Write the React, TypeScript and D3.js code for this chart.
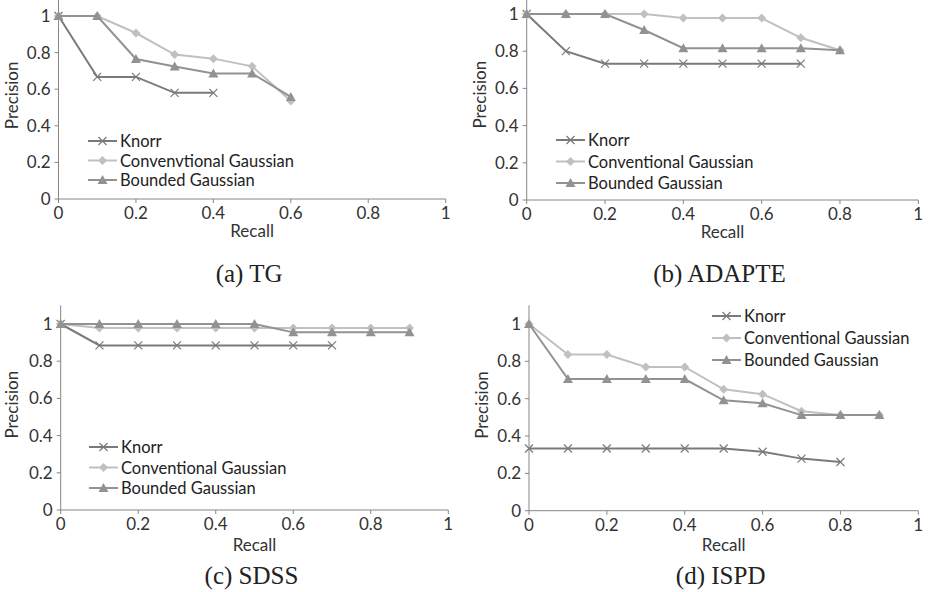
import { useEffect, useRef } from 'react';
import * as d3 from 'd3';

// recall steps shared by all panels (series use the first n of them)
const recall = [0, 0.1, 0.2, 0.3, 0.4, 0.5, 0.6, 0.7, 0.8, 0.9];
const xTicks = [0, 0.2, 0.4, 0.6, 0.8, 1];
const yTicks = [0, 0.2, 0.4, 0.6, 0.8, 1];
const seriesNames = ['Knorr', 'Conventional Gaussian', 'Bounded Gaussian'];

// (a) TG
const tgKnorr = [1, 0.667, 0.667, 0.58, 0.58];
const tgConv = [1, 1, 0.907, 0.789, 0.767, 0.725, 0.536];
const tgBounded = [1, 1, 0.765, 0.724, 0.686, 0.686, 0.558];
// (b) ADAPTE
const adKnorr = [1, 0.8, 0.733, 0.733, 0.733, 0.733, 0.733, 0.733];
const adConv = [1, 1, 1, 1, 0.978, 0.978, 0.978, 0.872, 0.805];
const adBounded = [1, 1, 1, 0.914, 0.816, 0.816, 0.816, 0.816, 0.805];
// (c) SDSS
const sdKnorr = [1, 0.885, 0.885, 0.885, 0.885, 0.885, 0.885, 0.885];
const sdConv = [1, 0.978, 0.978, 0.978, 0.978, 0.978, 0.978, 0.978, 0.978, 0.978];
const sdBounded = [1, 1, 1, 1, 1, 1, 0.955, 0.955, 0.955, 0.955];
// (d) ISPD
const isKnorr = [0.333, 0.333, 0.333, 0.333, 0.333, 0.333, 0.316, 0.279, 0.261];
const isConv = [1, 0.836, 0.836, 0.77, 0.77, 0.65, 0.624, 0.533, 0.512, 0.512];
const isBounded = [1, 0.705, 0.705, 0.705, 0.705, 0.591, 0.575, 0.512, 0.512, 0.512];

const colors = ['#7a7a7a', '#c0c0c0', '#929292'];
const FONT = 'Lato, "Open Sans", sans-serif';

const panels = [
  { caption: '(a) TG', data: [tgKnorr, tgConv, tgBounded], names: ['Knorr', 'Convenvtional Gaussian', 'Bounded Gaussian'],
    x0: 58.5, x1: 445.7, yOne: 16, yZero: 199, recallY: 237, captionY: 282, legend: { x: 88, y: 141, dy: 19.5 } },
  { caption: '(b) ADAPTE', data: [adKnorr, adConv, adBounded], names: seriesNames,
    x0: 526.7, x1: 918.3, yOne: 14, yZero: 200, recallY: 238, captionY: 282, legend: { x: 556, y: 140, dy: 21.5 } },
  { caption: '(c) SDSS', data: [sdKnorr, sdConv, sdBounded], names: seriesNames,
    x0: 60.7, x1: 448.3, yOne: 324, yZero: 510, recallY: 551, captionY: 584, legend: { x: 89, y: 447, dy: 20.5 } },
  { caption: '(d) ISPD', data: [isKnorr, isConv, isBounded], names: seriesNames,
    x0: 529, x1: 918.3, yOne: 324, yZero: 510.7, recallY: 551, captionY: 584, legend: { x: 712, y: 316, dy: 22 } },
];

function drawMarker(g, kind, cx, cy, color) {
  if (kind === 0) {
    const s = 4;
    g.append('path')
      .attr('d', `M${cx - s},${cy - s}L${cx + s},${cy + s}M${cx - s},${cy + s}L${cx + s},${cy - s}`)
      .attr('stroke', color).attr('stroke-width', 1.2).attr('fill', 'none');
  } else if (kind === 1) {
    const s = 4.5;
    g.append('path')
      .attr('d', `M${cx},${cy - s}L${cx + s},${cy}L${cx},${cy + s}L${cx - s},${cy}Z`)
      .attr('fill', color);
  } else {
    g.append('path')
      .attr('d', `M${cx},${cy - 5}L${cx + 5},${cy + 4}L${cx - 5},${cy + 4}Z`)
      .attr('fill', color);
  }
}

export default function App() {
  const svgRef = useRef(null);

  useEffect(() => {
    const svg = d3.select(svgRef.current);
    svg.selectAll('*').remove();

    panels.forEach((p) => {
      const g = svg.append('g');
      const x = d3.scaleLinear().domain([0, 1]).range([p.x0, p.x1]);
      const y = d3.scaleLinear().domain([0, 1]).range([p.yZero, p.yOne]);
      const yTop = y(1.1);

      // axes
      g.append('line').attr('x1', p.x0).attr('x2', p.x0).attr('y1', yTop).attr('y2', p.yZero)
        .attr('stroke', '#868686').attr('stroke-width', 1);
      g.append('line').attr('x1', p.x0).attr('x2', p.x1).attr('y1', p.yZero).attr('y2', p.yZero)
        .attr('stroke', '#868686').attr('stroke-width', 1);

      yTicks.forEach((t) => {
        g.append('line').attr('x1', p.x0 - 4).attr('x2', p.x0).attr('y1', y(t)).attr('y2', y(t))
          .attr('stroke', '#868686');
        g.append('text').attr('x', p.x0 - 8).attr('y', y(t) + 6)
          .attr('text-anchor', 'end').attr('font-family', FONT).attr('font-size', 17)
          .attr('fill', '#333').text(d3.format('~g')(t));
      });
      xTicks.forEach((t) => {
        g.append('line').attr('x1', x(t)).attr('x2', x(t)).attr('y1', p.yZero).attr('y2', p.yZero + 4)
          .attr('stroke', '#868686');
        g.append('text').attr('x', x(t)).attr('y', p.yZero + 20)
          .attr('text-anchor', 'middle').attr('font-family', FONT).attr('font-size', 17)
          .attr('fill', '#333').text(d3.format('~g')(t));
      });

      const px = p.x0 > 400 ? p.x0 - 41 : 18;
      g.append('text')
        .attr('transform', `translate(${px},${(yTop + p.yZero) / 2 - 3}) rotate(-90)`)
        .attr('text-anchor', 'middle').attr('font-family', FONT).attr('font-size', 17)
        .attr('fill', '#333').text('Precision');
      g.append('text').attr('x', (p.x0 + p.x1) / 2).attr('y', p.recallY)
        .attr('text-anchor', 'middle').attr('font-family', FONT).attr('font-size', 17)
        .attr('fill', '#333').text('Recall');
      g.append('text').attr('x', (p.x0 + p.x1) / 2 - 3).attr('y', p.captionY)
        .attr('text-anchor', 'middle').attr('font-family', '"Liberation Serif", "Times New Roman", serif')
        .attr('font-size', 25).attr('fill', '#222').text(p.caption);

      // series
      p.data.forEach((vals, k) => {
        const pts = vals.map((v, i) => [recall[i], v]);
        const line = d3.line().x((d) => x(d[0])).y((d) => y(d[1]));
        g.append('path').attr('d', line(pts)).attr('fill', 'none')
          .attr('stroke', colors[k]).attr('stroke-width', 2);
        pts.forEach((d) => drawMarker(g, k, x(d[0]), y(d[1]), colors[k]));
      });

      // legend
      p.names.forEach((name, k) => {
        const ly = p.legend.y + k * p.legend.dy;
        g.append('line').attr('x1', p.legend.x).attr('x2', p.legend.x + 29).attr('y1', ly).attr('y2', ly)
          .attr('stroke', colors[k]).attr('stroke-width', 2);
        drawMarker(g, k, p.legend.x + 14.5, ly, colors[k]);
        g.append('text').attr('x', p.legend.x + 32).attr('y', ly + 6)
          .attr('font-family', FONT).attr('font-size', 16.5).attr('fill', '#222').text(name);
      });
    });
  }, []);

  return (
    <svg ref={svgRef} width="929" height="592"
      style={{ position: 'absolute', left: 0, top: 0, background: '#fff' }} />
  );
}
